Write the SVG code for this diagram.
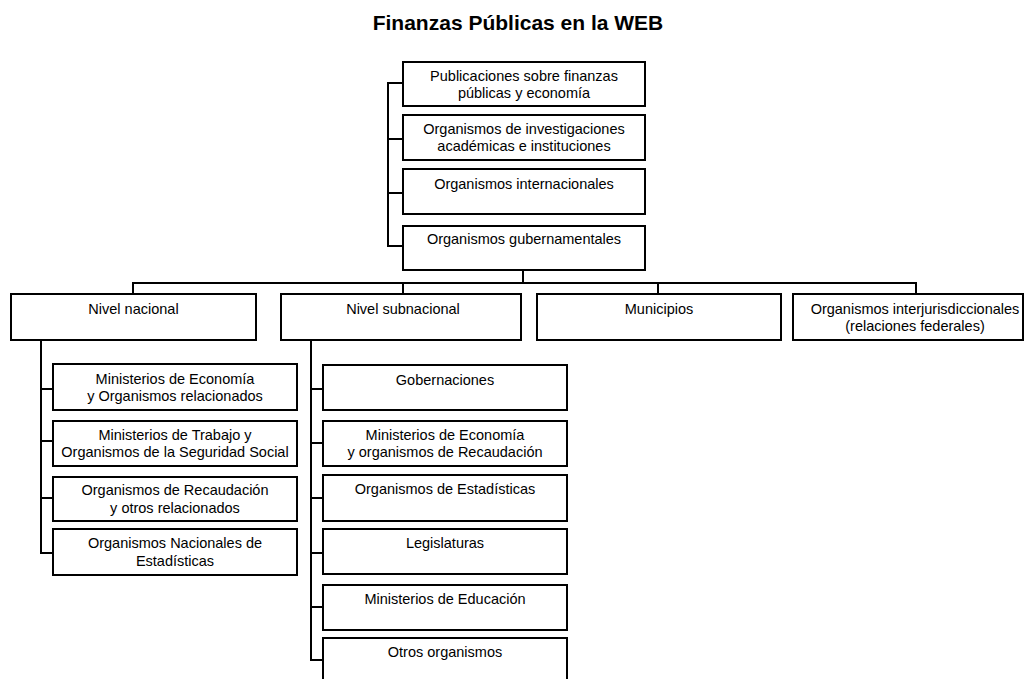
<svg xmlns="http://www.w3.org/2000/svg" width="1025" height="679" viewBox="0 0 1025 679">
<style>
.box{fill:#fff;stroke:#000;stroke-width:2}
.t{font-family:"Liberation Sans",Arial,sans-serif;font-size:14.5px;fill:#000;text-anchor:middle}
.title{font-family:"Liberation Sans",Arial,sans-serif;font-size:21px;font-weight:bold;fill:#000;text-anchor:middle}
.c{fill:none;stroke:#000;stroke-width:2}
</style>
<rect width="1025" height="679" fill="#fff"/>
<text class="title" x="518" y="30">Finanzas Públicas en la WEB</text>
<g id="connectors">
<path class="c" d="M403,83H388V246H403M388,139H403M388,193H403"/>
<path class="c" d="M523,270V283M133,294V283H916V294M403,283V294M658,283V294"/>
<path class="c" d="M41,340V553H53M41,389H53M41,441H53M41,498H53"/>
<path class="c" d="M311,340V660H323M311,389H323M311,443H323M311,498H323M311,553H323M311,607H323"/>
</g>
<g id="n1"><rect class="box" x="403" y="62" width="242" height="44"/><text class="t" x="524" y="81">Publicaciones sobre finanzas</text><text class="t" x="524" y="98">públicas y economía</text></g>
<g id="n2"><rect class="box" x="403" y="115" width="242" height="45"/><text class="t" x="524" y="134">Organismos de investigaciones</text><text class="t" x="524" y="151">académicas e instituciones</text></g>
<g id="n3"><rect class="box" x="403" y="169" width="242" height="45"/><text class="t" x="524" y="189">Organismos internacionales</text></g>
<g id="n4"><rect class="box" x="403" y="226" width="242" height="44"/><text class="t" x="524" y="244">Organismos gubernamentales</text></g>
<g id="n5"><rect class="box" x="11" y="294" width="245" height="46"/><text class="t" x="133.5" y="314">Nivel nacional</text></g>
<g id="n6"><rect class="box" x="281" y="294" width="240" height="46"/><text class="t" x="403" y="314">Nivel subnacional</text></g>
<g id="n7"><rect class="box" x="537" y="294" width="244" height="46"/><text class="t" x="659" y="314">Municipios</text></g>
<g id="n8"><rect class="box" x="793" y="294" width="230" height="46"/><text class="t" x="915" y="314">Organismos interjurisdiccionales</text><text class="t" x="915" y="331">(relaciones federales)</text></g>
<g id="n9"><rect class="box" x="53" y="364" width="244" height="46"/><text class="t" x="175" y="384">Ministerios de Economía</text><text class="t" x="175" y="401">y Organismos relacionados</text></g>
<g id="n10"><rect class="box" x="53" y="421" width="244" height="45"/><text class="t" x="175" y="440">Ministerios de Trabajo y</text><text class="t" x="175" y="457">Organismos de la Seguridad Social</text></g>
<g id="n11"><rect class="box" x="53" y="477" width="244" height="44"/><text class="t" x="175" y="495">Organismos de Recaudación</text><text class="t" x="175" y="513">y otros relacionados</text></g>
<g id="n12"><rect class="box" x="53" y="529" width="244" height="46"/><text class="t" x="175" y="548">Organismos Nacionales de</text><text class="t" x="175" y="566">Estadísticas</text></g>
<g id="n13"><rect class="box" x="323" y="365" width="244" height="45"/><text class="t" x="445" y="385">Gobernaciones</text></g>
<g id="n14"><rect class="box" x="323" y="421" width="244" height="45"/><text class="t" x="445" y="440">Ministerios de Economía</text><text class="t" x="445" y="457">y organismos de Recaudación</text></g>
<g id="n15"><rect class="box" x="323" y="475" width="244" height="46"/><text class="t" x="445" y="494">Organismos de Estadísticas</text></g>
<g id="n16"><rect class="box" x="323" y="529" width="244" height="45"/><text class="t" x="445" y="548">Legislaturas</text></g>
<g id="n17"><rect class="box" x="323" y="585" width="244" height="45"/><text class="t" x="445" y="604">Ministerios de Educación</text></g>
<g id="n18"><rect class="box" x="323" y="638" width="244" height="50"/><text class="t" x="445" y="657">Otros organismos</text></g>
</svg>
